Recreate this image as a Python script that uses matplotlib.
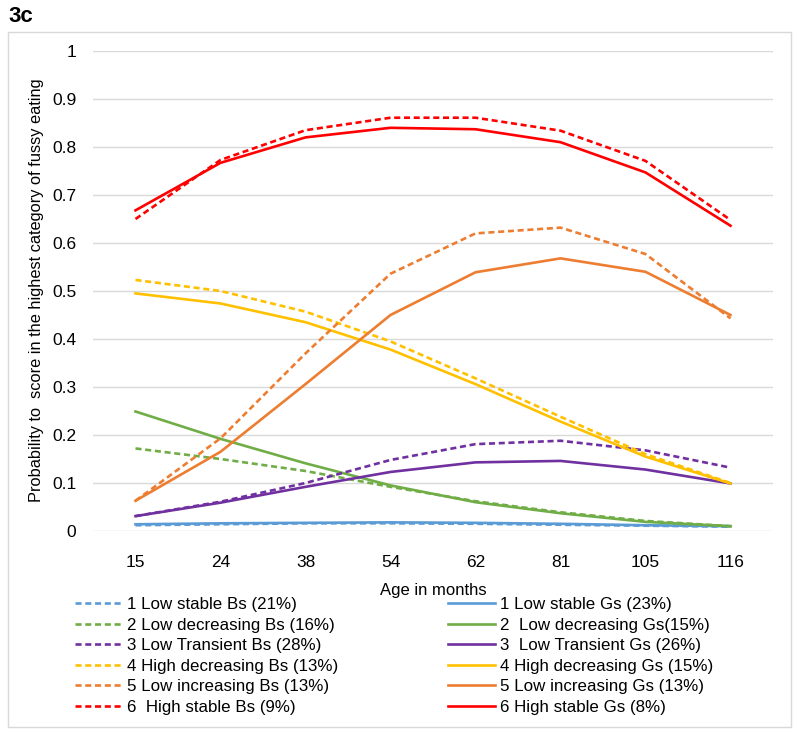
import matplotlib
matplotlib.use('Agg')
import matplotlib.pyplot as plt
from matplotlib.patches import Rectangle

# Age categories (x axis)
ages = ['15', '24', '38', '54', '62', '81', '105', '116']

# probability of being in the highest fussy-eating category, boys (Bs) / girls (Gs)
low_stable_bs = [0.012, 0.014, 0.016, 0.016, 0.015, 0.013, 0.011, 0.009]
low_stable_gs = [0.014, 0.016, 0.017, 0.018, 0.017, 0.015, 0.012, 0.010]
low_decr_bs = [0.172, 0.150, 0.125, 0.092, 0.062, 0.039, 0.021, 0.010]
low_decr_gs = [0.249, 0.192, 0.141, 0.095, 0.060, 0.037, 0.019, 0.010]
low_trans_bs = [0.031, 0.061, 0.100, 0.148, 0.181, 0.188, 0.168, 0.132]
low_trans_gs = [0.031, 0.059, 0.092, 0.123, 0.143, 0.146, 0.128, 0.099]
high_decr_bs = [0.523, 0.500, 0.457, 0.395, 0.318, 0.238, 0.160, 0.100]
high_decr_gs = [0.495, 0.474, 0.435, 0.378, 0.306, 0.228, 0.155, 0.099]
low_incr_bs = [0.063, 0.193, 0.370, 0.536, 0.620, 0.632, 0.577, 0.443]
low_incr_gs = [0.063, 0.165, 0.306, 0.450, 0.539, 0.568, 0.540, 0.450]
high_stable_bs = [0.650, 0.773, 0.835, 0.861, 0.861, 0.834, 0.771, 0.648]
high_stable_gs = [0.668, 0.767, 0.820, 0.840, 0.837, 0.810, 0.747, 0.636]

bs_labels = ['1 Low stable Bs (21%)', '2 Low decreasing Bs (16%)',
             '3 Low Transient Bs (28%)', '4 High decreasing Bs (13%)',
             '5 Low increasing Bs (13%)', '6  High stable Bs (9%)']
gs_labels = ['1 Low stable Gs (23%)', '2  Low decreasing Gs(15%)',
             '3  Low Transient Gs (26%)', '4 High decreasing Gs (15%)',
             '5 Low increasing Gs (13%)', '6 High stable Gs (8%)']

colors = ['#5B9BD5', '#70AD47', '#7030A0', '#FFC000', '#ED7D31', '#FF0000']

bs_series = [low_stable_bs, low_decr_bs, low_trans_bs, high_decr_bs, low_incr_bs, high_stable_bs]
gs_series = [low_stable_gs, low_decr_gs, low_trans_gs, high_decr_gs, low_incr_gs, high_stable_gs]

plt.rcParams['font.family'] = ['Liberation Sans', 'DejaVu Sans']

fig = plt.figure(figsize=(8, 7.34), dpi=100)
ax = fig.add_axes([93 / 800, 1 - 531 / 734, 680 / 800, 480 / 734])

x = list(range(len(ages)))
bs_handles = []
gs_handles = []
for c, bs, gs in zip(colors, bs_series, gs_series):
    hb, = ax.plot(x, bs, color=c, lw=1.9, linestyle=(0, (2.3, 1.4)))
    hg, = ax.plot(x, gs, color=c, lw=1.9)
    bs_handles.append(hb)
    gs_handles.append(hg)

ax.set_xlim(-0.5, len(ages) - 0.5)
ax.set_ylim(0, 1)
ax.set_xticks(x)
ax.set_xticklabels(ages)
ax.set_yticks([i / 10 for i in range(11)])
ax.set_yticklabels(['0'] + ['0.%d' % i for i in range(1, 10)] + ['1'])
ax.tick_params(axis='both', length=0, labelsize=12.5, colors='#000000')
ax.tick_params(axis='x', pad=17)
ax.tick_params(axis='y', pad=12)
ax.grid(axis='y', color='#d9d9d9', lw=1)
ax.set_axisbelow(True)
for s in ax.spines.values():
    s.set_visible(False)

fig.text(433 / 800, 1 - 590 / 734, 'Age in months', ha='center', va='center', fontsize=12)
fig.text(37 / 800, 1 - 290 / 734, 'Probability to  score in the highest category of fussy eating',
         rotation=90, ha='center', va='center', fontsize=11.8)
fig.text(8 / 800, 1 - 17 / 734, '3c', ha='left', va='center', fontsize=16, fontweight='bold')

# outer frame
fig.patches.append(Rectangle((8 / 800, 1 - 727 / 734), 783 / 800, 695 / 734,
                             transform=fig.transFigure, fill=False,
                             edgecolor='#d9d9d9', lw=1))

leg_kw = dict(loc='upper left', frameon=False, fontsize=12.2, borderpad=0, borderaxespad=0,
              handlelength=2.8, handletextpad=0.25, labelspacing=0.33)
fig.legend(bs_handles, bs_labels, bbox_to_anchor=(75 / 800, 1 - 597 / 734), **leg_kw)
fig.legend(gs_handles, gs_labels, bbox_to_anchor=(448 / 800, 1 - 597 / 734), **leg_kw)

fig.savefig('out.png', dpi=100)
